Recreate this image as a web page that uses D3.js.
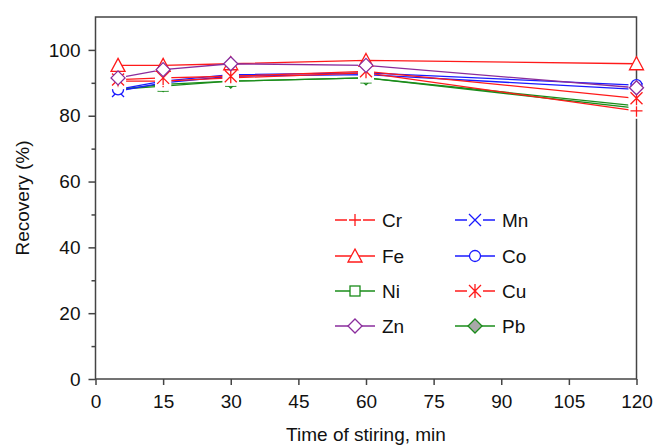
<!DOCTYPE html>
<html>
<head>
<meta charset="utf-8">
<script src="https://cdn.jsdelivr.net/npm/d3@7"></script>
<style>
  body { margin: 0; background: #fff; }
  text { font-family: "Liberation Sans", Arial, sans-serif; fill: #111; }
</style>
</head>
<body>
<svg id="chart" width="655" height="448"></svg>
<script>
// stirring time (min)
const times = [5, 15, 30, 60, 120];

// recovery (%) per element
const cr = [90.5, 90.5, 91.5, 93.0, 81.5];
const mn = [87.5, 90.0, 92.0, 92.5, 88.0];
const fe = [95.3, 95.3, 95.8, 96.8, 95.8];
const co = [88.0, 90.5, 92.5, 93.0, 89.3];
const ni = [88.0, 89.0, 90.5, 91.5, 82.3];
const cu = [91.0, 91.5, 92.0, 93.5, 85.3];
const zn = [91.5, 94.0, 95.8, 95.3, 88.5];
const pb = [88.0, 89.5, 90.5, 91.5, 83.0];

const xTicks = [0, 15, 30, 45, 60, 75, 90, 105, 120];
const yTicks = [0, 20, 40, 60, 80, 100];
const yMinor = [10, 30, 50, 70, 90];

const series = [
  { name: "Cr", values: cr, color: "#ff1a1a", symbol: "plus" },
  { name: "Mn", values: mn, color: "#1a1aff", symbol: "cross" },
  { name: "Fe", values: fe, color: "#ff1a1a", symbol: "triangle" },
  { name: "Co", values: co, color: "#1a1aff", symbol: "circle" },
  { name: "Ni", values: ni, color: "#1a8c1a", symbol: "square" },
  { name: "Cu", values: cu, color: "#ff1a1a", symbol: "star" },
  { name: "Zn", values: zn, color: "#8a2c9c", symbol: "diamond" },
  { name: "Pb", values: pb, color: "#1a8c1a", symbol: "diamondFill" }
];
// order the markers are stacked in the plot (last on top)
const drawOrder = ["Pb", "Ni", "Mn", "Co", "Cr", "Cu", "Fe", "Zn"];

const svg = d3.select("#chart");
const x = d3.scaleLinear().domain([0, 120]).range([95.5, 636.5]);
const y = d3.scaleLinear().domain([0, 110]).range([379, 17]);
const axisColor = "#444";

// frame
svg.append("rect")
  .attr("x", x(0)).attr("y", y(110))
  .attr("width", x(120) - x(0)).attr("height", y(0) - y(110))
  .attr("fill", "none").attr("stroke", axisColor).attr("stroke-width", 1.5);

// axes
svg.append("g")
  .attr("transform", `translate(0,${y(0)})`)
  .call(d3.axisBottom(x).tickValues(xTicks).tickSize(6).tickPadding(10));
svg.append("g")
  .attr("transform", `translate(${x(0)},0)`)
  .call(d3.axisLeft(y).tickValues(yTicks).tickSize(7).tickPadding(8));
svg.append("g")
  .attr("transform", `translate(${x(0)},0)`)
  .call(d3.axisLeft(y).tickValues(yMinor).tickSize(4).tickFormat(""));

svg.selectAll(".domain").remove();
svg.selectAll(".tick line").attr("stroke", axisColor).attr("stroke-width", 1.5);
svg.selectAll(".tick text")
  .style("font-family", "'Liberation Sans', Arial, sans-serif")
  .style("font-size", "19px").attr("fill", "#111");

// axis titles
svg.append("text")
  .attr("x", 366).attr("y", 441)
  .attr("text-anchor", "middle").style("font-size", "19px")
  .text("Time of stiring, min");
svg.append("text")
  .attr("transform", "translate(29,198) rotate(-90)")
  .attr("text-anchor", "middle").style("font-size", "19px")
  .text("Recovery (%)");

// symbols
function drawSymbol(g, sym, color) {
  const s = 6;
  if (sym === "plus" || sym === "cross" || sym === "star") {
    g.append("rect").attr("x", -8).attr("y", -8).attr("width", 16).attr("height", 16).attr("fill", "#fff");
  }
  const st = (sel) => sel.attr("stroke", color).attr("stroke-width", 1.3);
  if (sym === "plus") {
    st(g.append("path").attr("d", `M${-s},0H${s}M0,${-s}V${s}`));
  } else if (sym === "cross") {
    st(g.append("path").attr("d", `M${-s},${-s}L${s},${s}M${-s},${s}L${s},${-s}`));
  } else if (sym === "star") {
    st(g.append("path").attr("d", `M${-s},${-s}L${s},${s}M${-s},${s}L${s},${-s}M0,${-s - 1}V${s + 1}`));
  } else if (sym === "triangle") {
    st(g.append("path").attr("d", `M0,${-s - 1}L${s + 1},${s}L${-s - 1},${s}Z`).attr("fill", "#fff"));
  } else if (sym === "circle") {
    st(g.append("circle").attr("r", s - 0.5).attr("fill", "#fff"));
  } else if (sym === "square") {
    st(g.append("rect").attr("x", -s + 1).attr("y", -s + 1).attr("width", 2 * s - 2).attr("height", 2 * s - 2).attr("fill", "#fff"));
  } else if (sym === "diamond" || sym === "diamondFill") {
    st(g.append("path").attr("d", `M0,${-s - 1}L${s + 1},0L0,${s + 1}L${-s - 1},0Z`)
      .attr("fill", sym === "diamond" ? "#fff" : "#a8a8a8"));
  }
}

// lines
const line = d3.line().x((d, i) => x(times[i])).y(d => y(d));
const ordered = drawOrder.map(n => series.find(s => s.name === n));
svg.append("g").selectAll("path")
  .data(ordered)
  .join("path")
  .attr("d", d => line(d.values))
  .attr("fill", "none")
  .attr("stroke", d => d.color)
  .attr("stroke-width", 1.3);

// markers
ordered.forEach(s => {
  s.values.forEach((v, i) => {
    const g = svg.append("g").attr("transform", `translate(${x(times[i])},${y(v)})`);
    drawSymbol(g, s.symbol, s.color);
  });
});

// legend
const legendRows = [220, 256, 291, 326];
const legendCols = [355, 475];
series.forEach((s, i) => {
  const cx = legendCols[i % 2];
  const cy = legendRows[Math.floor(i / 2)];
  svg.append("line")
    .attr("x1", cx - 20).attr("x2", cx + 20).attr("y1", cy).attr("y2", cy)
    .attr("stroke", s.color).attr("stroke-width", 1.3);
  drawSymbol(svg.append("g").attr("transform", `translate(${cx},${cy})`), s.symbol, s.color);
  svg.append("text")
    .attr("x", cx + 27).attr("y", cy + 7)
    .style("font-size", "19px")
    .text(s.name);
});
</script>
</body>
</html>
